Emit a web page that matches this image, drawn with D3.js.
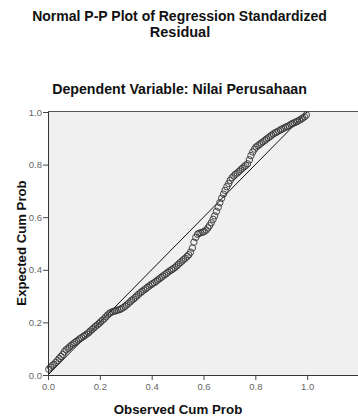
<!DOCTYPE html>
<html>
<head>
<meta charset="utf-8">
<script src="https://cdn.jsdelivr.net/npm/d3@7"></script>
<style>
  html, body { margin: 0; padding: 0; background: #fff; }
  svg { display: block; }
  text { font-family: Arial, "Liberation Sans", sans-serif; }
</style>
</head>
<body>
<svg id="chart" width="358" height="416"></svg>
<script>
// ---- data ----
const titleLines = ["Normal P-P Plot of Regression Standardized", "Residual"];
const subtitle = "Dependent Variable: Nilai Perusahaan";
const xLabel = "Observed Cum Prob";
const yLabel = "Expected Cum Prob";
const xTicks = [0.0, 0.2, 0.4, 0.6, 0.8, 1.0];
const yTicks = [0.0, 0.2, 0.4, 0.6, 0.8, 1.0];
const referenceLine = [[0, 0], [1, 1]];

const observed = [
  0.003,0.010,0.017,0.023,0.030,0.037,0.043,0.050,0.057,0.063,
  0.070,0.077,0.083,0.090,0.097,0.103,0.110,0.117,0.123,0.130,
  0.137,0.143,0.150,0.157,0.163,0.170,0.177,0.183,0.190,0.197,
  0.203,0.210,0.217,0.223,0.230,0.237,0.243,0.250,0.257,0.263,
  0.270,0.277,0.283,0.290,0.297,0.303,0.310,0.317,0.323,0.330,
  0.337,0.343,0.350,0.357,0.363,0.370,0.377,0.383,0.390,0.397,
  0.403,0.410,0.417,0.423,0.430,0.437,0.443,0.450,0.457,0.463,
  0.470,0.477,0.483,0.490,0.497,0.503,0.510,0.517,0.523,0.530,
  0.537,0.543,0.550,0.557,0.563,0.570,0.577,0.583,0.590,0.597,
  0.603,0.610,0.617,0.623,0.630,0.637,0.643,0.650,0.657,0.663,
  0.670,0.677,0.683,0.690,0.697,0.703,0.710,0.717,0.723,0.730,
  0.737,0.743,0.750,0.757,0.763,0.770,0.777,0.783,0.790,0.797,
  0.803,0.810,0.817,0.823,0.830,0.837,0.843,0.850,0.857,0.863,
  0.870,0.877,0.883,0.890,0.897,0.903,0.910,0.917,0.923,0.930,
  0.937,0.943,0.950,0.957,0.963,0.970,0.977,0.983,0.990,0.997
];
const expected = [
  0.022,0.030,0.036,0.041,0.048,0.055,0.063,0.070,0.078,0.088,
  0.096,0.101,0.107,0.113,0.118,0.123,0.128,0.133,0.138,0.142,
  0.147,0.151,0.156,0.161,0.167,0.173,0.179,0.185,0.190,0.196,
  0.202,0.208,0.214,0.221,0.228,0.234,0.238,0.241,0.243,0.245,
  0.247,0.249,0.252,0.256,0.261,0.266,0.272,0.278,0.284,0.289,
  0.295,0.301,0.307,0.313,0.318,0.323,0.328,0.333,0.338,0.343,
  0.347,0.351,0.356,0.361,0.366,0.371,0.376,0.381,0.386,0.391,
  0.396,0.400,0.404,0.409,0.415,0.421,0.427,0.433,0.439,0.444,
  0.451,0.457,0.467,0.483,0.505,0.523,0.535,0.539,0.541,0.543,
  0.546,0.551,0.559,0.568,0.579,0.592,0.605,0.622,0.638,0.655,
  0.672,0.688,0.702,0.716,0.728,0.740,0.750,0.757,0.763,0.768,
  0.774,0.780,0.786,0.792,0.797,0.803,0.818,0.834,0.848,0.859,
  0.867,0.872,0.877,0.882,0.887,0.892,0.897,0.902,0.907,0.912,
  0.917,0.921,0.924,0.928,0.932,0.935,0.939,0.942,0.945,0.948,
  0.953,0.956,0.959,0.962,0.965,0.969,0.973,0.977,0.982,0.989
];

// ---- layout ----
const svg = d3.select("#chart");
const plot = { left: 48, top: 112, right: 359, bottom: 375 };
const x = d3.scaleLinear().domain([0, 1.2]).range([plot.left, plot.right]);
const y = d3.scaleLinear().domain([0, 1]).range([plot.bottom, plot.top]);

// titles
svg.append("text")
  .attr("x", 179.5).attr("y", 21)
  .attr("text-anchor", "middle")
  .attr("font-size", 14).attr("font-weight", "bold").attr("fill", "#111")
  .text(titleLines[0]);
svg.append("text")
  .attr("x", 180).attr("y", 36.5)
  .attr("text-anchor", "middle")
  .attr("font-size", 14.5).attr("font-weight", "bold").attr("fill", "#111")
  .text(titleLines[1]);

svg.append("text")
  .attr("x", 179.5).attr("y", 94)
  .attr("text-anchor", "middle")
  .attr("font-size", 14.2).attr("font-weight", "bold").attr("fill", "#111")
  .text(subtitle);

// plot area background
svg.append("rect")
  .attr("x", plot.left).attr("y", y(1))
  .attr("width", plot.right - plot.left).attr("height", y(0) - y(1))
  .attr("fill", "#f0f0f0");

// top border
svg.append("line")
  .attr("x1", plot.left).attr("x2", plot.right)
  .attr("y1", y(1) - 0.5).attr("y2", y(1) - 0.5)
  .attr("stroke", "#555").attr("stroke-width", 1);

// axes
const xAxis = d3.axisBottom(x).tickValues(xTicks).tickFormat(d3.format(".1f")).tickSizeOuter(0).tickSize(5).tickPadding(3);
const yAxis = d3.axisLeft(y).tickValues(yTicks).tickFormat(d3.format(".1f")).tickSizeOuter(0).tickSize(5).tickPadding(1);

const gx = svg.append("g").attr("transform", `translate(0,${plot.bottom})`).call(xAxis);
const gy = svg.append("g").attr("transform", `translate(${plot.left},0)`).call(yAxis);
[gx, gy].forEach(g => {
  g.select(".domain").attr("stroke", "#333");
  g.selectAll(".tick line").attr("stroke", "#444");
  g.selectAll(".tick text").attr("fill", "#666").attr("font-size", 9.5)
    .attr("font-family", "Arial, 'Liberation Sans', sans-serif");
});
gy.select(".domain").attr("d", `M0.5,${plot.bottom}V${y(1)}`);

// reference line
svg.append("line")
  .attr("x1", x(referenceLine[0][0])).attr("y1", y(referenceLine[0][1]))
  .attr("x2", x(referenceLine[1][0])).attr("y2", y(referenceLine[1][1]))
  .attr("stroke", "#111").attr("stroke-width", 1);

// points
svg.append("g").selectAll("circle")
  .data(observed.map((o, i) => [o, expected[i]]))
  .join("circle")
  .attr("cx", d => x(d[0])).attr("cy", d => y(d[1]))
  .attr("r", 3.2)
  .attr("fill", "none").attr("stroke", "#333").attr("stroke-width", 0.9);

// axis titles
svg.append("text")
  .attr("x", 178).attr("y", 414)
  .attr("text-anchor", "middle")
  .attr("font-size", 13.3).attr("font-weight", "bold").attr("fill", "#111")
  .text(xLabel);

svg.append("text")
  .attr("transform", `translate(26,243) rotate(-90)`)
  .attr("text-anchor", "middle")
  .attr("font-size", 13.2).attr("font-weight", "bold").attr("fill", "#111")
  .text(yLabel);
</script>
</body>
</html>
